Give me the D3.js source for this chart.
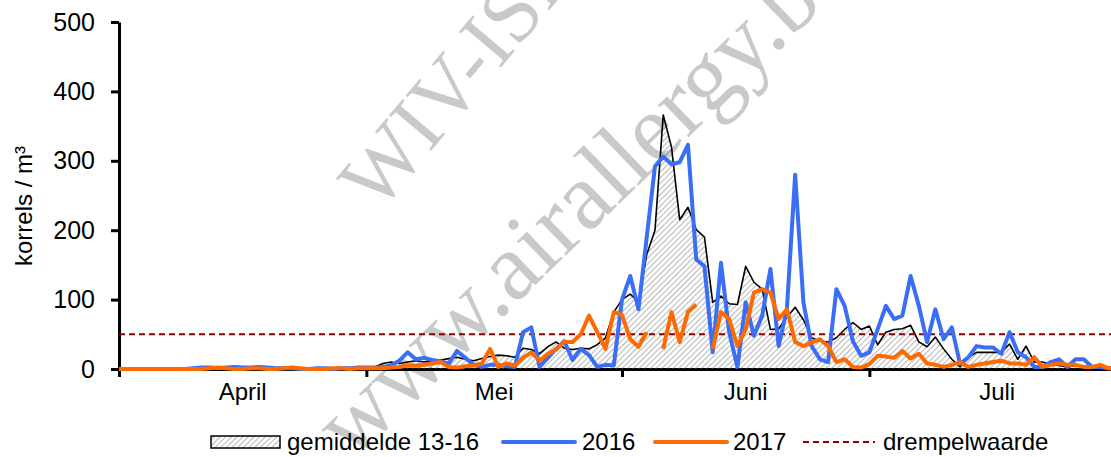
<!DOCTYPE html>
<html>
<head>
<meta charset="utf-8">
<script src="https://cdn.jsdelivr.net/npm/d3@7/dist/d3.min.js"></script>
<style>
    body { margin: 0; background: #fff; }
    svg { display: block; }
    text { font-family: Arial, 'Liberation Sans', sans-serif; fill: #000; }
    text.wm { font-family: 'Liberation Serif', 'DejaVu Serif', serif; fill: #c9c9c9; }
</style>
</head>
<body>
<svg id="chart"></svg>
<script>
const width = 1111, // width of <svg></svg>
    height = 457; // height of <svg></svg>

// daily values from 1 April to 31 July (122 days), korrels / m³
const startDate = new Date(2017, 3, 1);
const gemiddelde = [
    0, 0, 0, 0, 0, 0, 0, 0, 0, 0, 0, 0, 0, 0, 0, 0, 0, 0, 0, 0, 0, 0, 0, 0, 0, 0, 0, 0, 1, 1,
    1, 3, 8, 10, 8, 10, 12, 10, 12, 13, 15, 17, 14, 12, 15, 18, 20, 19, 17, 30, 28, 22, 32, 39, 30, 28, 30, 29, 35, 45, 82,
    100, 108, 96, 165, 200, 366, 320, 215, 233, 201, 190, 96, 105, 94, 93, 148, 125, 115, 57, 58, 75, 89, 71, 45, 40, 39, 45, 57, 67, 57,
    62, 35, 53, 57, 58, 63, 39, 32, 46, 29, 14, 3, 17, 24, 24, 24, 24, 36, 14, 33, 10, 10, 6, 5, 3, 5, 3, 3, 2, 2, 1,
];
const y2016 = [
    0, 0, 0, 0, 0, 0, 0, 0, 0, 1, 2, 2, 1, 2, 3, 2, 2, 3, 2, 1, 1, 1, 0, 0, 1, 1, 0, 1, 1, 2,
    2, 2, 3, 5, 12, 24, 14, 16, 13, 11, 8, 26, 16, 6, 3, 6, 6, 4, 3, 53, 60, 3, 16, 29, 40, 13, 29, 20, 3, 6, 5,
    100, 134, 86, 190, 292, 306, 295, 298, 323, 158, 148, 24, 153, 53, 3, 96, 48, 77, 144, 33, 87, 280, 96, 33, 14, 10, 115, 91, 40, 19,
    24, 57, 91, 72, 77, 134, 91, 39, 86, 43, 60, 7, 17, 33, 31, 31, 22, 53, 24, 17, 3, 3, 10, 14, 3, 14, 14, 3, 3, 1, 1,
];
const y2017 = [
    0, 0, 0, 0, 0, 0, 0, 0, 0, 0, 0, 1, 2, 1, 0, 0, 1, 1, 0, 0, 1, 2, 1, 0, 0, 0, 1, 1, 0, 1,
    1, 1, 1, 2, 3, 5, 5, 6, 8, 10, 3, 2, 4, 5, 8, 29, 3, 8, 5, 16, 24, 12, 22, 28, 39, 39, 50, 77, 53, 29, 82,
    78, 43, 32, 53, null, 29, 82, 39, 82, 93, null, 29, 82, 72, 33, 57, 110, 115, 110, 72, 86, 39, 33, 38, 43, 33, 10, 14, 3, 2,
    7, 19, 18, 16, 26, 15, 22, 8, 6, 3, 6, 10, 3, 6, 8, 10, 12, 8, 8, 6, 17, 3, 6, 8, 6, 6, 3, 3, 6, 1, 1,
];
const drempelwaarde = 50;
const yTicks = [0, 100, 200, 300, 400, 500];
const months = ['April', 'Mei', 'Juni', 'Juli'];
const legendLabels = ['gemiddelde 13-16', '2016', '2017', 'drempelwaarde'];

const blue = '#3b6ef6',
    orange = '#ff6a00',
    darkRed = '#8b0000';

const svg = d3.select('#chart').attr('width', width).attr('height', height);

const x = d3.scaleTime().domain([startDate, new Date(2017, 7, 1)]).range([119, 1125]);
const y = d3.scaleLinear().domain([0, 500]).range([369, 22]);
const day = (i) => d3.timeDay.offset(startDate, i);

// hatch pattern for the average area
const defs = svg.append('defs');
defs.append('pattern')
    .attr('id', 'hatch')
    .attr('patternUnits', 'userSpaceOnUse')
    .attr('width', 4)
    .attr('height', 4)
    .attr('patternTransform', 'rotate(45)')
    .append('line')
    .attr('x1', 0).attr('y1', 0).attr('x2', 0).attr('y2', 4)
    .attr('stroke', '#6e6e6e')
    .attr('stroke-width', 1);
defs.append('clipPath').attr('id', 'plot-clip')
    .append('rect').attr('x', 0).attr('y', 0).attr('width', width).attr('height', height);

// watermark (cut by the picture edge, like in the original)
const wm = svg.append('g');
wm.append('text').attr('class', 'wm').attr('transform', 'translate(378,214) rotate(-50)').style('font-size', '84px').text('WIV-ISP');
wm.append('text').attr('class', 'wm').attr('transform', 'translate(352,462) rotate(-44)').style('font-size', '96px').text('www.airallergy.be');

// y axis
const yAxis = svg.append('g')
    .attr('transform', 'translate(119,0)')
    .call(d3.axisLeft(y).tickValues(yTicks).tickSize(8).tickSizeOuter(0).tickPadding(16));
yAxis.select('.domain').attr('stroke-width', 3);
yAxis.selectAll('.tick line').attr('stroke-width', 3);
yAxis.selectAll('.tick text').style('font-size', '25px').attr('font-family', null);

// x axis, ticks on month boundaries
const monthStarts = d3.timeMonth.range(startDate, new Date(2017, 7, 1));
const xAxis = svg.append('g')
    .attr('transform', 'translate(0,' + y(0) + ')')
    .call(d3.axisBottom(x).tickValues(monthStarts).tickFormat('').tickSize(8).tickSizeOuter(0));
xAxis.select('.domain').attr('stroke-width', 3);
xAxis.selectAll('.tick line').attr('stroke-width', 3);

svg.append('g')
    .selectAll('text')
    .data(months)
    .enter()
    .append('text')
    .attr('x', (d, i) => (x(monthStarts[i]) + x(d3.timeMonth.offset(monthStarts[i], 1))) / 2)
    .attr('y', 400)
    .attr('text-anchor', 'middle')
    .style('font-size', '24px')
    .text((d) => d);

svg.append('text')
    .attr('transform', 'translate(32,206) rotate(-90)')
    .attr('text-anchor', 'middle')
    .style('font-size', '24px')
    .text('korrels / m³');

const plot = svg.append('g').attr('clip-path', 'url(#plot-clip)');

// average 13-16: hatched area + thin black line
const area = d3.area().x((d, i) => x(day(i))).y0(y(0)).y1((d) => y(d));
const line = d3.line().defined((d) => d !== null).x((d, i) => x(day(i))).y((d) => y(d));

plot.append('path').datum(gemiddelde).attr('d', area).attr('fill', 'url(#hatch)');
plot.append('path').datum(gemiddelde).attr('d', line)
    .attr('fill', 'none').attr('stroke', '#000').attr('stroke-width', 1.6).attr('stroke-linejoin', 'round');

// threshold
plot.append('line')
    .attr('x1', x(startDate)).attr('x2', width)
    .attr('y1', y(drempelwaarde)).attr('y2', y(drempelwaarde))
    .attr('stroke', darkRed).attr('stroke-width', 2).attr('stroke-dasharray', '6,4');

plot.append('path').datum(y2016).attr('d', line)
    .attr('fill', 'none').attr('stroke', blue).attr('stroke-width', 4).attr('stroke-linejoin', 'round');
plot.append('path').datum(y2017).attr('d', line)
    .attr('fill', 'none').attr('stroke', orange).attr('stroke-width', 4).attr('stroke-linejoin', 'round');

// legend
const legend = svg.append('g').attr('id', 'legend');
const legendY = 442;
legend.append('rect')
    .attr('x', 211).attr('y', legendY - 6).attr('width', 69).attr('height', 12)
    .attr('fill', 'url(#hatch)').attr('stroke', '#000').attr('stroke-width', 1.5);
legend.append('line').attr('x1', 503).attr('x2', 575).attr('y1', legendY).attr('y2', legendY)
    .attr('stroke', blue).attr('stroke-width', 4).attr('stroke-linecap', 'round');
legend.append('line').attr('x1', 655).attr('x2', 727).attr('y1', legendY).attr('y2', legendY)
    .attr('stroke', orange).attr('stroke-width', 4).attr('stroke-linecap', 'round');
legend.append('line').attr('x1', 803).attr('x2', 875).attr('y1', legendY).attr('y2', legendY)
    .attr('stroke', darkRed).attr('stroke-width', 2).attr('stroke-dasharray', '6,4');

legend.selectAll('.legend-label')
    .data(legendLabels)
    .enter()
    .append('text')
    .attr('class', 'legend-label')
    .attr('x', (d, i) => [287, 582, 733, 883][i])
    .attr('y', legendY + 8)
    .style('font-size', '24px')
    .text((d) => d);
</script>
</body>
</html>
